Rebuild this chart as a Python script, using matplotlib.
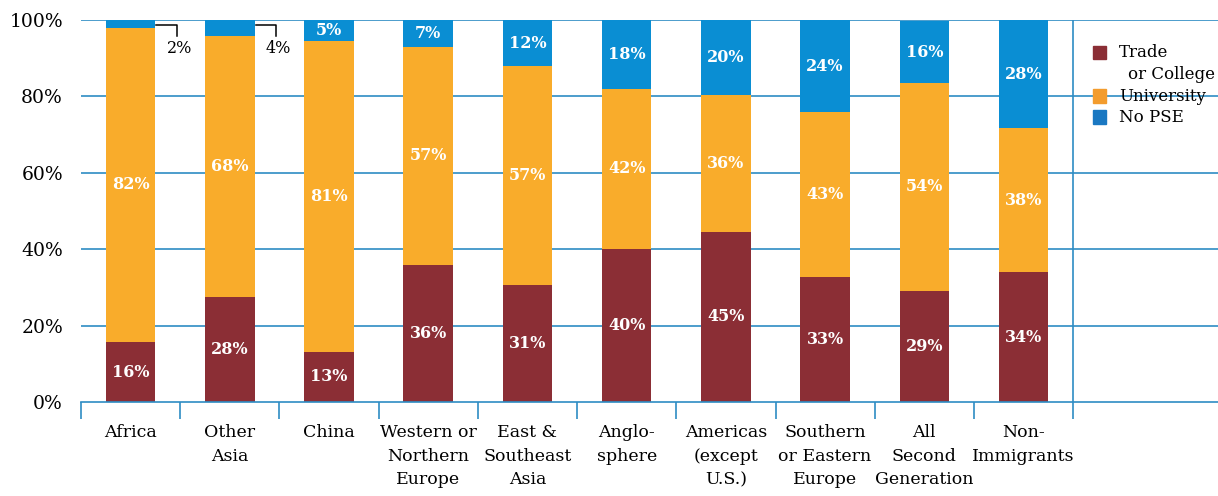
import matplotlib
matplotlib.use("Agg")
import matplotlib.pyplot as plt
from matplotlib.patches import Rectangle

categories = ["Africa", "Other\nAsia", "China", "Western or\nNorthern\nEurope", "East &\nSoutheast\nAsia",
              "Anglo-\nsphere", "Americas\n(except\nU.S.)", "Southern\nor Eastern\nEurope", "All\nSecond\nGeneration",
              "Non-\nImmigrants"]
trade = [15.7, 27.5, 13.1, 35.9, 30.6, 40.1, 44.6, 32.7, 29.1, 34.0]
university = [82.3, 68.4, 81.4, 57.0, 57.3, 41.8, 35.8, 43.2, 54.4, 37.7]
no_pse = [2.0, 4.1, 5.4, 7.1, 12.1, 18.1, 19.6, 24.1, 16.2, 28.3]
yticks = [0, 20, 40, 60, 80, 100]
series_names = ["Trade", "or College", "University", "No PSE"]

c_trade = "#8B2E35"
c_uni = "#F9AC2B"
c_nopse = "#0A8ED3"
grid_c = "#2E8CC4"

plt.rcParams['font.family'] = ['DejaVu Serif']

fig = plt.figure(figsize=(12.18, 4.96), dpi=100)
ax = fig.add_axes([81/1218, 1-402/496, 1-81/1218, (402-20)/496])

n = len(categories)
x = list(range(n))
w = 0.5
ax.set_xlim(-0.5, 10.96)
ax.set_ylim(0, 100)

for yv in yticks[1:]:
    ax.axhline(yv, color=grid_c, lw=1.2, zorder=0)

bottom2 = [t + u for t, u in zip(trade, university)]
ax.bar(x, trade, w, color=c_trade, zorder=2)
ax.bar(x, university, w, bottom=trade, color=c_uni, zorder=2)
ax.bar(x, no_pse, w, bottom=bottom2, color=c_nopse, zorder=2)

lab_kw = dict(color="white", fontsize=11.5, fontweight="bold", ha="center", va="center", zorder=3)
for i in x:
    ax.text(i, trade[i] / 2, f"{round(trade[i])}%", **lab_kw)
    ax.text(i, trade[i] + university[i] / 2, f"{round(university[i])}%", **lab_kw)
    if no_pse[i] >= 5:
        ax.text(i, bottom2[i] + no_pse[i] / 2, f"{round(no_pse[i])}%", **lab_kw)
    else:
        ax.plot([i + w / 2 + 0.01, i + 0.465, i + 0.465], [98.8, 98.8, 95.8],
                color="black", lw=1.1, zorder=3, clip_on=False)
        ax.text(i + 0.49, 92.6, f"{round(no_pse[i])}%", color="black", fontsize=11.5,
                ha="center", va="center", zorder=3)

# separator line
ax.plot([9.5, 9.5], [0, 100], color=grid_c, lw=1.2, zorder=1)

for s in ["top", "right", "left"]:
    ax.spines[s].set_visible(False)
ax.spines["bottom"].set_color(grid_c)
ax.spines["bottom"].set_linewidth(1.2)

ax.set_yticks(yticks)
ax.set_yticklabels([f"{v}%" for v in yticks], fontsize=13.5)
ax.tick_params(axis="y", length=0, pad=13)

ax.set_xticks([i - 0.5 for i in range(n + 1)])
ax.set_xticklabels([])
ax.tick_params(axis="x", length=12, width=1.2, color=grid_c)
for i, c in enumerate(categories):
    ax.text(i, -5.8, c, ha="center", va="top", fontsize=12.5, linespacing=1.5,
            transform=ax.transData, clip_on=False)

# legend
lx = 9.7
cols = [c_trade, "#F39C2D", "#1A78C2"]
patch_y = [91.5, 80.1, 74.6]
for col, yy in zip(cols, patch_y):
    ax.add_patch(Rectangle((lx, yy - 1.8), 0.13, 3.6, color=col, clip_on=False, zorder=3))
text_pos = [(lx + 0.26, 91.5), (lx + 0.35, 85.8), (lx + 0.26, 80.1), (lx + 0.26, 74.6)]
for name, (tx, ty) in zip(series_names, text_pos):
    ax.text(tx, ty, name, ha="left", va="center", fontsize=12, zorder=3)

fig.savefig("out.png", dpi=100)
